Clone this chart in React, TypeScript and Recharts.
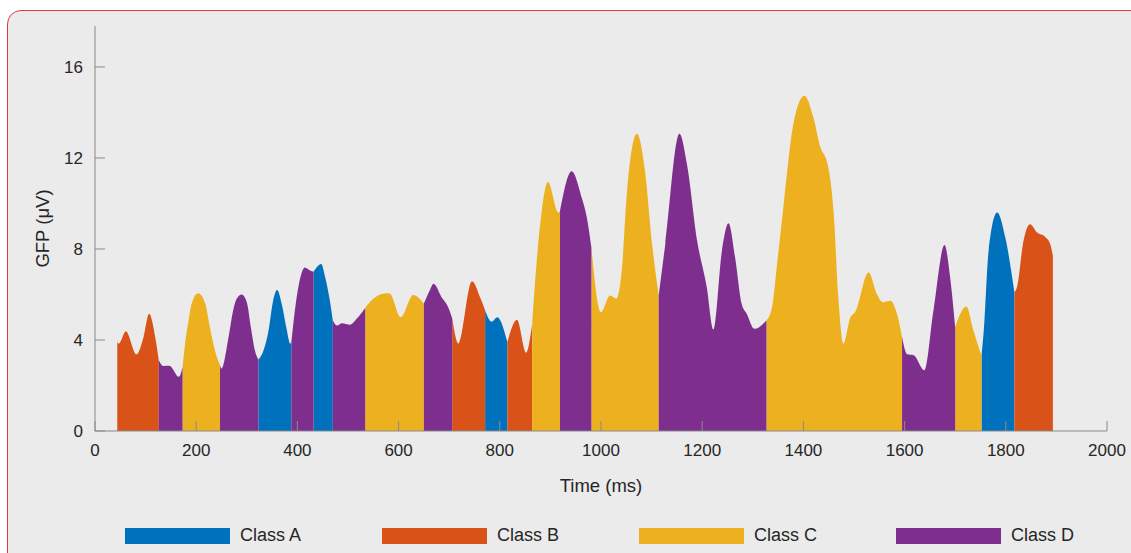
import { Area, ComposedChart, Label, Legend, XAxis, YAxis } from "recharts";

// GFP samples (ms, µV)
const times = [
  44, 47, 61, 82, 96, 107, 119, 126, 135, 147, 166, 173, 178, 185, 191, 204, 218, 227, 237, 247,
  250, 264, 273, 280, 290, 300, 308, 316, 323, 333, 343, 352, 360, 369, 378, 386, 388, 395, 403, 415,
  425, 432, 447, 455, 463, 470, 478, 488, 504, 517, 534, 550, 577, 583, 604, 629, 650, 662, 669, 685,
  698, 706, 718, 745, 761, 771, 784, 795, 815, 834, 852, 864, 873, 883, 895, 916, 919, 942, 962, 972,
  981, 1000, 1018, 1030, 1041, 1051, 1071, 1087, 1101, 1114, 1127, 1155, 1170, 1190, 1209, 1222, 1239, 1252, 1265, 1278,
  1288, 1303, 1327, 1338, 1348, 1361, 1380, 1402, 1420, 1433, 1448, 1460, 1469, 1479, 1493, 1502, 1529, 1545, 1557, 1572,
  1585, 1595, 1605, 1618, 1639, 1657, 1679, 1690, 1700, 1722, 1736, 1752, 1756, 1766, 1783, 1799, 1817, 1822, 1835, 1848,
  1862, 1878, 1888, 1893,
];
const gfp = [
  3.91, 3.84, 4.38, 3.36, 4.13, 5.15, 4.13, 3.11, 2.86, 2.87, 2.38, 2.8, 3.84, 4.86, 5.59, 6.05, 5.59, 4.56, 3.54, 2.89,
  2.74, 4.13, 5.3, 5.81, 6.0, 5.66, 4.56, 3.54, 3.14, 3.54, 4.42, 5.73, 6.2, 5.59, 4.56, 3.84, 3.9, 5.3, 6.46, 7.19,
  7.05, 7.0, 7.34, 6.75, 5.88, 4.86, 4.64, 4.74, 4.67, 4.93, 5.41, 5.81, 6.05, 6.03, 5.0, 5.98, 5.6, 6.2, 6.47, 5.88,
  5.44, 4.95, 3.84, 6.58, 5.88, 5.3, 4.81, 5.0, 3.91, 4.89, 3.44, 4.7, 7.48, 9.67, 10.94, 9.6, 9.67, 11.42, 10.25, 9.38,
  8.07, 5.22, 5.95, 5.81, 7.05, 10.4, 13.06, 11.42, 8.21, 5.95, 8.21, 13.06, 11.71, 8.36, 6.32, 4.46, 7.92, 9.13, 7.63, 5.59,
  5.15, 4.49, 4.86, 5.44, 7.34, 9.96, 13.47, 14.73, 13.76, 12.52, 11.71, 9.53, 5.88, 3.84, 5.0, 5.22, 6.97, 6.03, 5.66, 5.73,
  5.15, 4.13, 3.37, 3.33, 2.67, 5.3, 8.17, 6.75, 4.56, 5.47, 4.42, 3.3, 4.28, 7.92, 9.6, 8.5, 6.1, 6.32, 8.36, 9.09,
  8.72, 8.53, 8.21, 7.7,
];

// microstate segments
const segStart = [44, 126, 173, 247, 323, 388, 432, 470, 534, 650, 706, 771, 815, 864, 919, 981, 1114, 1327, 1595, 1700, 1752, 1817];
const segEnd = [126, 173, 247, 323, 388, 432, 470, 534, 650, 706, 771, 815, 864, 919, 981, 1114, 1327, 1595, 1700, 1752, 1817, 1893];
const segClass = ["B", "D", "C", "D", "A", "D", "A", "D", "C", "D", "B", "A", "B", "C", "D", "C", "D", "C", "D", "C", "A", "B"];

const classKeys = ["A", "B", "C", "D"];
const classNames = ["Class A", "Class B", "Class C", "Class D"];
const classColors = ["#0072BD", "#D95319", "#EDB120", "#7E2F8E"];

const xTicks = [0, 200, 400, 600, 800, 1000, 1200, 1400, 1600, 1800, 2000];
const yTicks = [0, 4, 8, 12, 16];

const inClass = (t: number, c: string) =>
  segClass.some((k, i) => k === c && t >= segStart[i] && t <= segEnd[i]);

const data = times.map((t, i) => {
  const row: Record<string, number | null> = { t };
  classKeys.forEach((c) => {
    row[c] = inClass(t, c) ? gfp[i] : null;
  });
  return row;
});

const axisColor = "#8a8a8a";
const textColor = "#262626";
const font = '"Liberation Sans", Arial, sans-serif';

function XTick({ x, y, payload }: any) {
  return (
    <g>
      <line x1={x} y1={y} x2={x} y2={y - 10} stroke={axisColor} />
      <text x={x} y={y + 25} textAnchor="middle" fill={textColor} fontSize={17} fontFamily={font}>
        {payload.value}
      </text>
    </g>
  );
}

function YTick({ x, y, payload }: any) {
  return (
    <g>
      <line x1={x} y1={y} x2={x + 10} y2={y} stroke={axisColor} />
      <text x={x - 12} y={y + 6} textAnchor="end" fill={textColor} fontSize={17} fontFamily={font}>
        {payload.value}
      </text>
    </g>
  );
}

function ClassLegend() {
  return (
    <div style={{ display: "flex", paddingLeft: 125, fontFamily: font, fontSize: 18, color: textColor }}>
      {classNames.map((name, i) => (
        <div key={name} style={{ width: 257, flexShrink: 0, display: "flex", alignItems: "center" }}>
          <div style={{ width: 105, height: 16, background: classColors[i], marginRight: 10 }} />
          <span>{name}</span>
        </div>
      ))}
    </div>
  );
}

export default function App() {
  return (
    <div style={{ position: "relative", width: 1131, height: 553, background: "#fff", overflow: "hidden" }}>
      <style>{`body{margin:0}`}</style>
      <div
        style={{
          position: "absolute",
          left: 7,
          top: 10,
          width: 1150,
          height: 570,
          border: "1.5px solid #E0393E",
          borderRadius: 14,
          background: "#EBEBEB",
        }}
      />
      <div style={{ position: "absolute", left: 0, top: 0 }}>
        <ComposedChart width={1131} height={553} data={data} margin={{ top: 26, right: 24, left: 35, bottom: 66 }}>
          <XAxis
            type="number"
            dataKey="t"
            domain={[0, 2000]}
            ticks={xTicks}
            interval={0}
            tickSize={0}
            tickMargin={0}
            tick={<XTick />}
            axisLine={{ stroke: axisColor }}
            height={30}
          >
            <Label
              value="Time (ms)"
              position="bottom"
              offset={18}
              style={{ fill: textColor, fontSize: 18.5, fontFamily: font }}
            />
          </XAxis>
          <YAxis
            type="number"
            domain={[0, 17.8]}
            ticks={yTicks}
            interval={0}
            allowDataOverflow
            tickSize={0}
            tickMargin={0}
            tick={<YTick />}
            axisLine={{ stroke: axisColor }}
            width={60}
          >
            <Label
              value="GFP (μV)"
              angle={-90}
              position="center"
              dx={-23}
              style={{ fill: textColor, fontSize: 18.5, fontFamily: font, textAnchor: "middle" }}
            />
          </YAxis>
          {classKeys.map((c, i) => (
            <Area
              key={c}
              dataKey={c}
              name={classNames[i]}
              type="monotone"
              stroke="none"
              fill={classColors[i]}
              fillOpacity={1}
              dot={false}
              activeDot={false}
              isAnimationActive={false}
            />
          ))}
          <Legend
            content={<ClassLegend />}
            wrapperStyle={{ position: "absolute", top: 525, left: 0, width: 1131, height: 26 }}
          />
        </ComposedChart>
      </div>
    </div>
  );
}
